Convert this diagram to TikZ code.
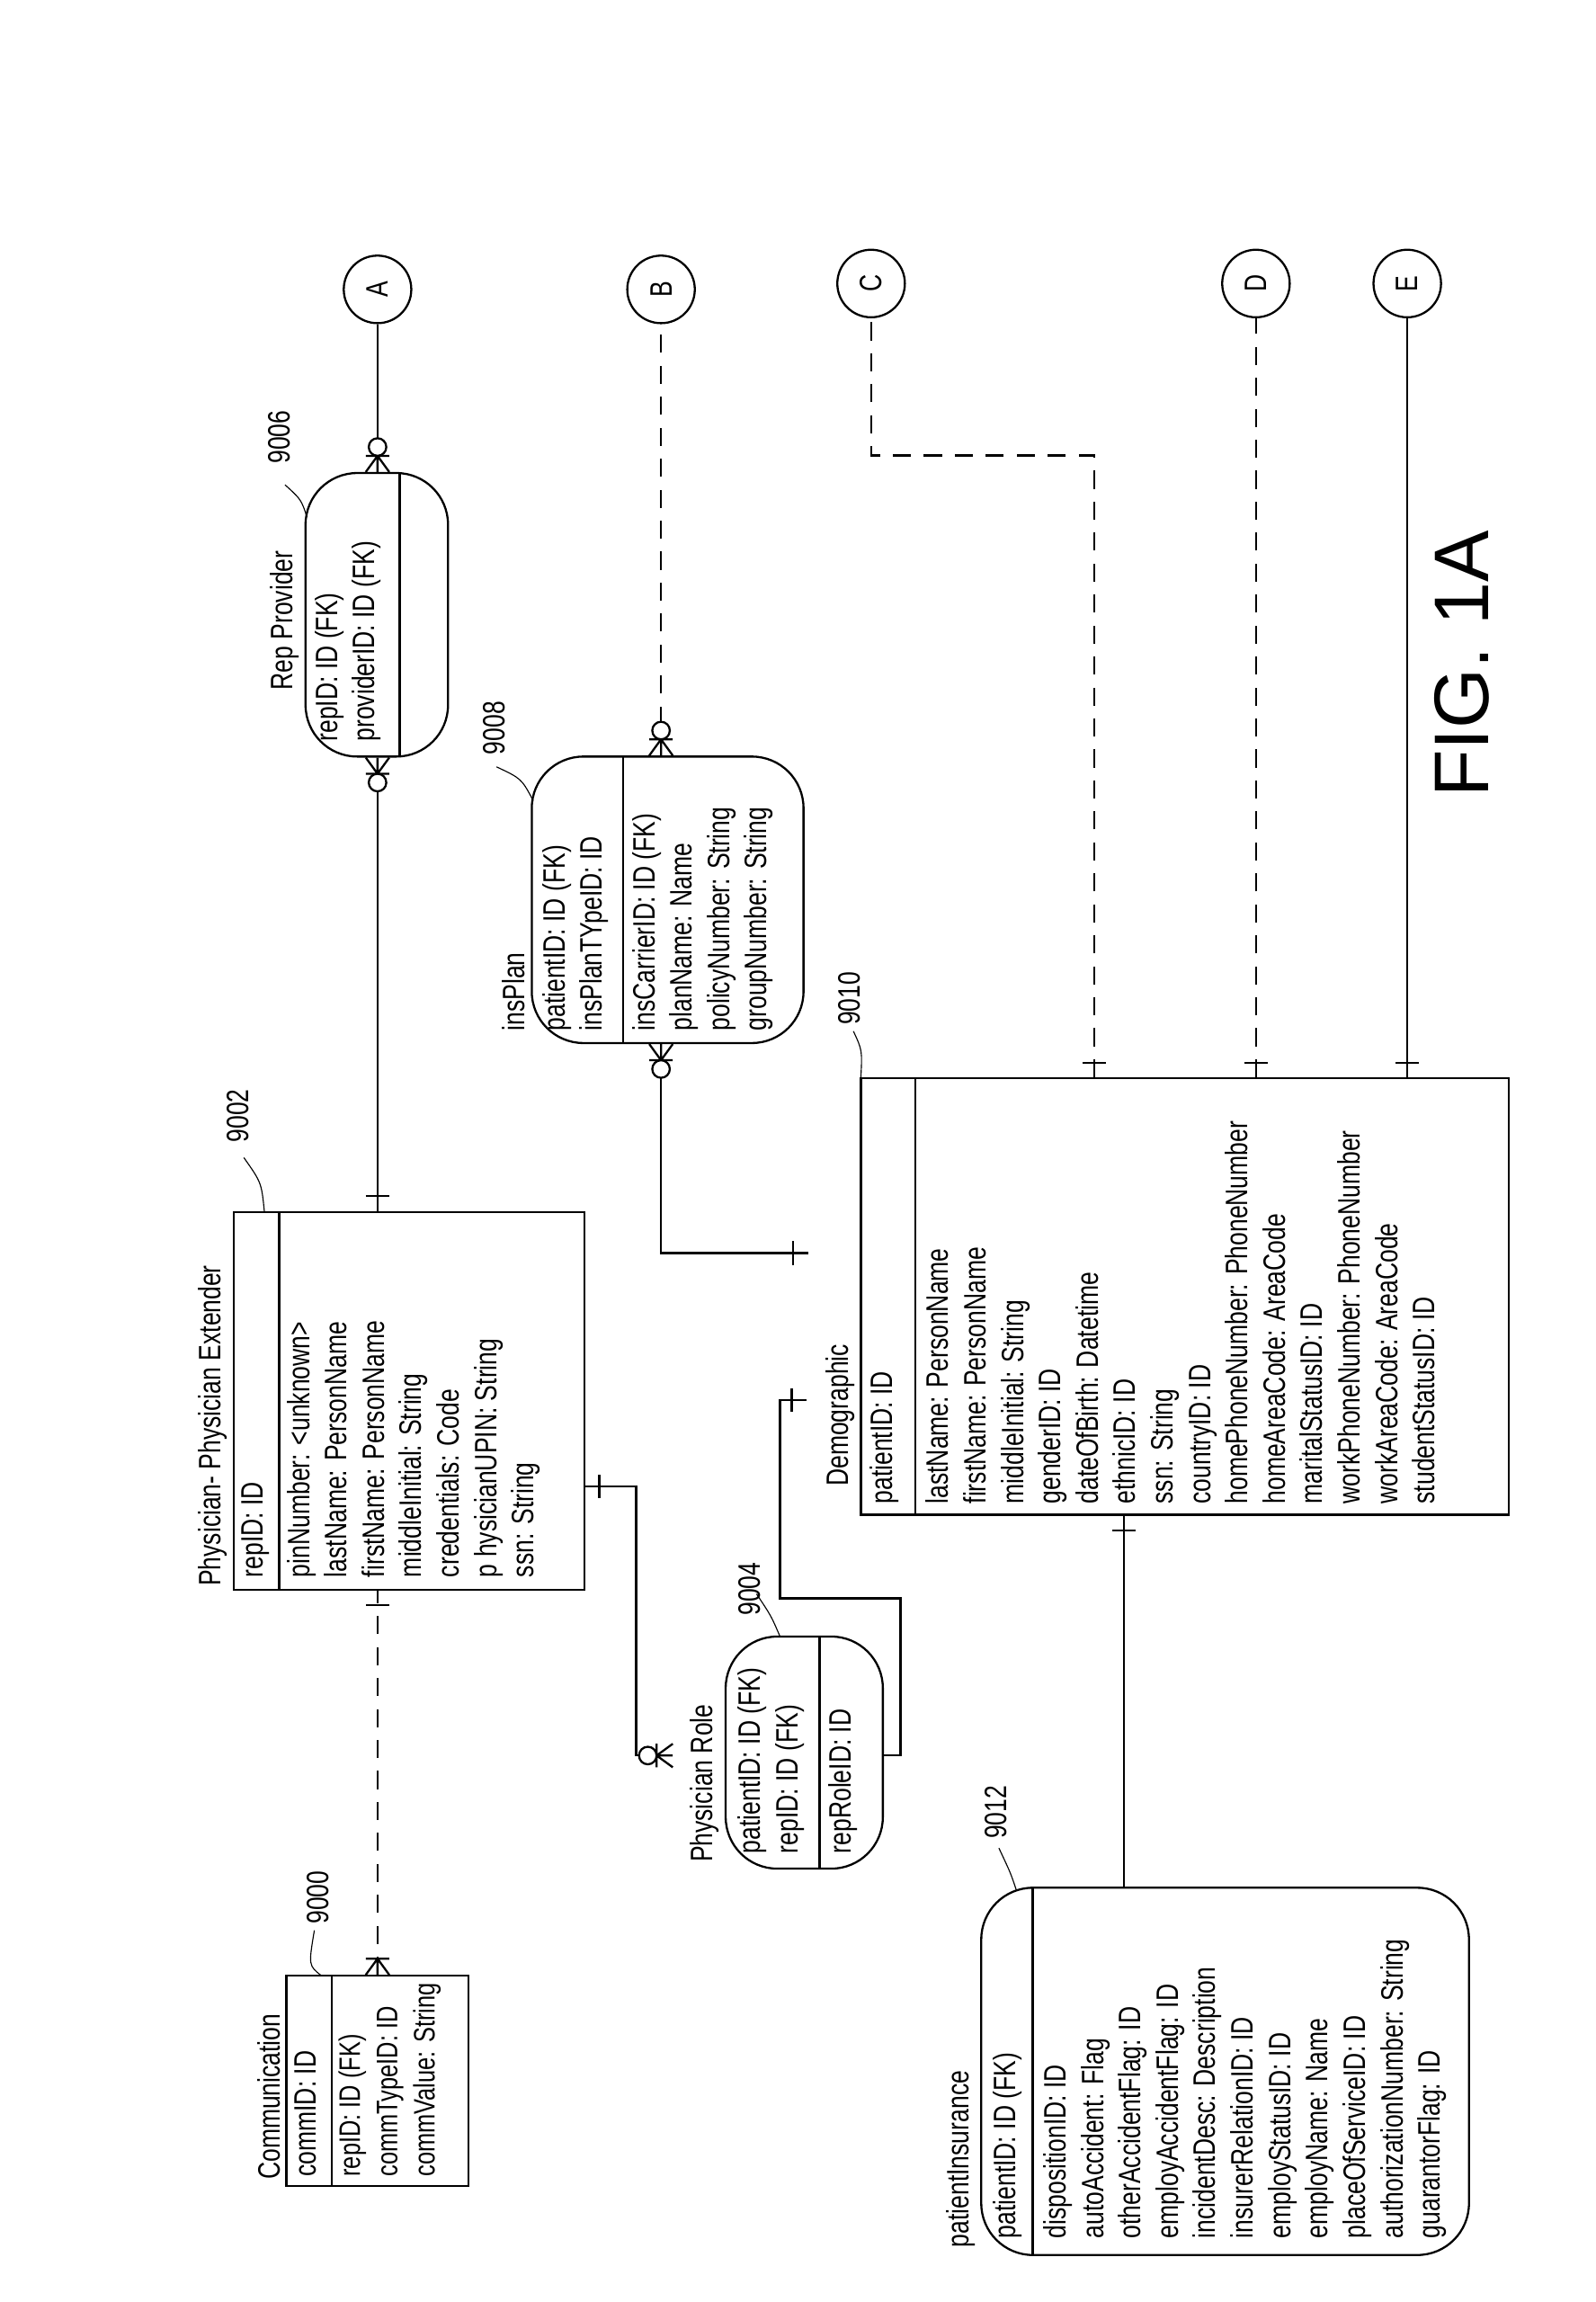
\documentclass[tikz,border=0pt]{standalone}
\usepackage{fontspec}
\setmainfont{Liberation Sans}[FakeStretch=0.77]
\newfontfamily\figfont{Liberation Sans}
\usetikzlibrary{fit,positioning}

\tikzset{
	ebox/.style={draw, thick, inner sep=0pt},
	rbox/.style={ebox, rounded corners=20},
	txt/.style={rotate=90, anchor=north west, inner sep=0pt, align=left,
		font=\fontsize{12}{14.5}\selectfont},
	ttl/.style={rotate=90, anchor=south west, inner sep=0pt,
		font=\fontsize{12}{14.5}\selectfont},
	num/.style={rotate=90, anchor=south west, inner sep=0pt,
		font=\fontsize{12}{13}\selectfont},
	conn/.style={draw, thick, circle, minimum size=0.92cm, inner sep=0pt,
		font=\fontsize{12}{14}\selectfont},
	rel/.style={thick},
	relD/.style={thick, dash pattern=on 7pt off 5pt},
	one/.pic={\draw[thick] (10,-8) -- (10,8);},
	crow/.pic={\draw[thick] (0,-8) -- (11,0) -- (0,8) (0,0) -- (11,0) (11,-8) -- (11,8);},
	crowz/.pic={\draw[thick] (0,-8) -- (11,0) -- (0,8) (0,0) -- (11,0) (11,-8) -- (11,8);
		\draw[thick, fill=white] (17,0) circle[radius=3.4pt];}
}

\begin{document}
\begin{tikzpicture}[x=0.02cm, y=-0.02cm]
	\useasboundingbox (0,0) rectangle (1086,1567);

	% entities
	\node[ebox, fit={(195,1345) (319,1488)}] (comm) {};
	\draw[thick] (226,1345) -- (226,1488);
	\node[ttl] at (191,1484) {Communication};
	\node[txt] at (200,1482) {commID: ID};
	\node[txt, font=\fontsize{11.5}{14.5}\selectfont] at (230,1482) {repID: ID (FK)\\commTypeID: ID\\commValue: String};

	\node[ebox, fit={(159,825) (398,1082)}] (phys) {};
	\draw[thick] (190,825) -- (190,1082);
	\node[ttl] at (155,1080) {Physician- Physician Extender};
	\node[txt] at (164,1074) {repID: ID};
	\node[txt] at (195,1074) {pinNumber: \textless unknown\textgreater\\lastName: PersonName\\firstName: PersonName\\middleInitial: String\\credentials: Code\\p hysicianUPIN: String\\ssn: String};

	\node[rbox, fit={(494,1114) (601,1272)}] (role) {};
	\draw[thick] (558,1114) -- (558,1272);
	\node[ttl] at (490,1268) {Physician Role};
	\node[txt] at (502,1262) {patientID: ID (FK)\\repID: ID (FK)};
	\node[txt] at (564,1262) {repRoleID: ID};

	\node[rbox, fit={(208,322) (305,515)}] (rep) {};
	\draw[thick] (272,322) -- (272,515);
	\node[ttl] at (204,470) {Rep Provider};
	\node[txt] at (214,505) {repID: ID (FK)\\providerID: ID (FK)};

	\node[rbox, fit={(362,515) (547,710)}] (ins) {};
	\draw[thick] (424,515) -- (424,710);
	\node[ttl] at (358,702) {insPlan};
	\node[txt] at (369,702) {patientID: ID (FK)\\insPlanTYpeID: ID};
	\node[txt] at (430,702) {insCarrierID: ID (FK)\\planName: Name\\policyNumber: String\\groupNumber: String};

	\node[ebox, fit={(586,734) (1027,1031)}] (demo) {};
	\draw[thick] (623,734) -- (623,1031);
	\node[ttl] at (582,1012) {Demographic};
	\node[txt] at (592,1024) {patientID: ID};
	\node[txt] at (630,1024) {lastName: PersonName\\firstName: PersonName\\middleInitial: String\\genderID: ID\\dateOfBirth: Datetime\\ethnicID: ID\\ssn: String\\countryID: ID\\homePhoneNumber: PhoneNumber\\homeAreaCode: AreaCode\\maritalStatusID: ID\\workPhoneNumber: PhoneNumber\\workAreaCode: AreaCode\\studentStatusID: ID};

	\node[rbox, fit={(668,1285) (1000,1535)}] (pins) {};
	\draw[thick] (703,1285) -- (703,1535);
	\node[ttl] at (664,1530) {patientInsurance};
	\node[txt] at (676,1524) {patientID: ID (FK)};
	\node[txt] at (710,1524) {dispositionID: ID\\autoAccident: Flag\\otherAccidentFlag: ID\\employAccidentFlag: ID\\incidentDesc: Description\\insurerRelationID: ID\\employStatusID: ID\\employName: Name\\placeOfServiceID: ID\\authorizationNumber: String\\guarantorFlag: ID};

	% reference numbers
	\node[num] (n9000) at (224,1310) {9000};
	\draw (214,1314) .. controls (210,1338) .. (219,1345);
	\node[num] (n9002) at (170,778) {9002};
	\draw (166,788) .. controls (178,805) .. (180,825);
	\node[num] (n9004) at (518,1100) {9004};
	\draw (515,1085) .. controls (525,1100) .. (531,1114);
	\node[num] (n9006) at (198,316) {9006};
	\draw (194,330) .. controls (205,340) .. (209,352);
	\node[num] (n9008) at (344,514) {9008};
	\draw (338,522) .. controls (355,530) .. (363,545);
	\node[num] (n9010) at (586,698) {9010};
	\draw (581,702) .. controls (587,715) .. (586,734);
	\node[num] (n9012) at (686,1252) {9012};
	\draw (680,1258) .. controls (688,1275) .. (692,1287);

	% off-page connectors
	\node[conn] (A) at (257,197) {\rotatebox{90}{A}};
	\node[conn] (B) at (450,197) {\rotatebox{90}{B}};
	\node[conn] (C) at (593,193) {\rotatebox{90}{C}};
	\node[conn] (D) at (855,193) {\rotatebox{90}{D}};
	\node[conn] (E) at (958,193) {\rotatebox{90}{E}};

	% relationships
	\draw[relD] (comm.north -| A) -- (phys.south -| A);
	\path (comm.north -| A) pic[rotate=90]{crow} (phys.south -| A) pic[rotate=-90]{one};

	\draw[rel] (phys.north -| A) -- (rep.south -| A);
	\path (phys.north -| A) pic[rotate=90]{one} (rep.south -| A) pic[rotate=-90]{crowz};
	\draw[rel] (rep.north -| A) -- (A);
	\path (rep.north -| A) pic[rotate=90]{crowz};

	\draw[relD] (ins.north -| B) -- (B);
	\path (ins.north -| B) pic[rotate=90]{crowz};
	\coordinate (insEnd) at (550,853);
	\draw[rel] (ins.south -| B) |- (insEnd);
	\path (ins.south -| B) pic[rotate=-90]{crowz} (insEnd) pic[rotate=180]{one};

	\coordinate (physOut) at (398,1012);
	\coordinate (roleEnd) at (458,1195);
	\draw[rel] (physOut) -- (433,1012) |- (roleEnd);
	\path (physOut) pic{one} (roleEnd) pic[rotate=180]{crowz};

	\coordinate (roleOut) at (601,1195);
	\coordinate (demoEnd) at (549,953);
	\draw[rel] (roleOut) -- (613,1195) -- (613,1088) -- (531,1088) |- (demoEnd);
	\path (demoEnd) pic[rotate=180]{one};

	\draw[relD] (demo.north -| 745,0) -- (745,310) -| (C);
	\path (demo.north -| 745,0) pic[rotate=90]{one};
	\draw[relD] (demo.north -| D) -- (D);
	\path (demo.north -| D) pic[rotate=90]{one};
	\draw[rel] (demo.north -| E) -- (E);
	\path (demo.north -| E) pic[rotate=90]{one};

	\draw[rel] (demo.south -| 765,0) -- (pins.north -| 765,0);
	\path (demo.south -| 765,0) pic[rotate=-90]{one};

	\node[rotate=90, font=\figfont\fontsize{30}{32}\selectfont] (fig) at (995,452) {FIG. 1A};
\end{tikzpicture}
\end{document}
